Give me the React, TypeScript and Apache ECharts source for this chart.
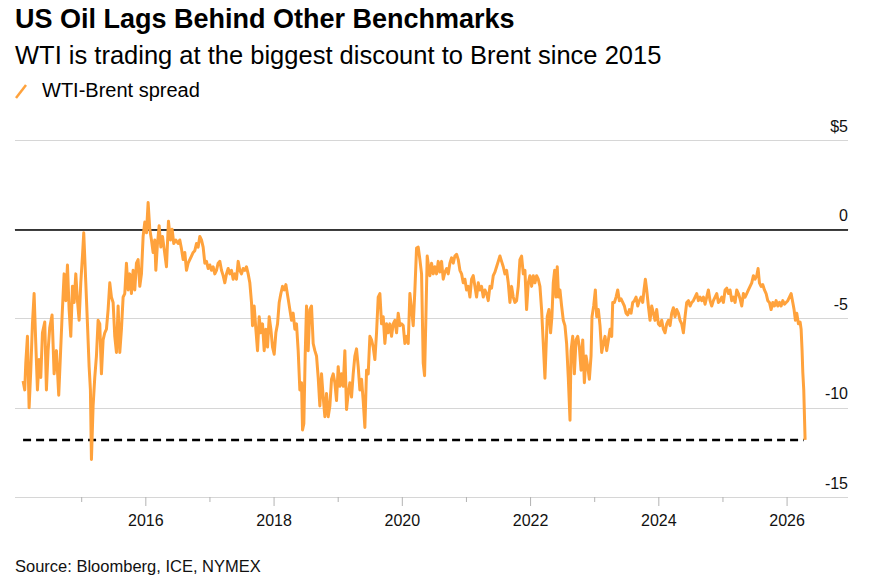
import React, { useEffect, useRef } from "react";
import * as echarts from "echarts";

// WTI-Brent spread, [decimal year, $ per barrel]
const spread2014to2015: [number, number][] = [
  [2014.086, -8.5], [2014.112, -9.0], [2014.128, -7.5], [2014.154, -6.0], [2014.18, -10.0], [2014.206, -7.9],
  [2014.232, -5.3], [2014.258, -3.6], [2014.284, -6.4], [2014.31, -9.0], [2014.336, -7.3], [2014.362, -8.3],
  [2014.388, -5.8], [2014.424, -5.2], [2014.45, -9.0], [2014.476, -6.8], [2014.502, -5.5], [2014.538, -4.8],
  [2014.57, -8.1], [2014.606, -6.8], [2014.642, -9.3], [2014.668, -7.1], [2014.694, -4.9], [2014.726, -2.5],
  [2014.752, -4.0], [2014.778, -2.0], [2014.804, -4.5], [2014.83, -6.0], [2014.856, -3.2], [2014.882, -4.1],
  [2014.908, -2.5], [2014.934, -4.0], [2014.96, -5.1], [2014.986, -3.0], [2015.012, -1.5], [2015.032, -0.2],
  [2015.064, -3.0], [2015.09, -5.3], [2015.116, -7.7], [2015.136, -9.0], [2015.152, -12.9], [2015.178, -9.9],
  [2015.204, -8.3], [2015.23, -7.1], [2015.256, -5.1], [2015.282, -5.3], [2015.308, -8.1], [2015.334, -6.2],
  [2015.36, -5.8], [2015.386, -5.6], [2015.412, -4.5], [2015.438, -3.0], [2015.464, -3.8], [2015.49, -4.1],
  [2015.516, -6.0], [2015.542, -6.9], [2015.568, -4.3], [2015.594, -6.9], [2015.62, -5.6], [2015.646, -3.8],
  [2015.672, -3.6], [2015.698, -1.9], [2015.724, -3.4], [2015.75, -2.5], [2015.776, -3.6], [2015.802, -2.3],
  [2015.828, -3.4], [2015.854, -1.9], [2015.88, -1.7], [2015.906, -3.2], [2015.932, -2.5], [2015.958, -0.4],
  [2015.984, 0.4], [2016.01, -0.2], [2016.036, 1.5], [2016.062, 0.0],
];

const spread2016to2018: [number, number][] = [
  [2016.088, -0.6], [2016.114, -1.3], [2016.14, -0.6], [2016.156, -2.3], [2016.182, -0.8], [2016.208, 0.2],
  [2016.234, -1.0], [2016.26, -0.4], [2016.286, -1.1], [2016.322, -2.1], [2016.353, 0.45], [2016.384, -0.6],
  [2016.41, 0.0], [2016.436, -0.8], [2016.468, -0.6], [2016.504, -0.8], [2016.53, -0.6], [2016.556, -1.1],
  [2016.582, -1.7], [2016.608, -1.3], [2016.634, -2.3], [2016.66, -1.9], [2016.686, -1.7], [2016.712, -1.5],
  [2016.738, -1.3], [2016.764, -1.2], [2016.79, -0.8], [2016.816, -1.0], [2016.842, -0.4], [2016.868, -0.6],
  [2016.894, -1.0], [2016.92, -1.9], [2016.946, -1.8], [2016.972, -2.2], [2016.998, -2.0], [2017.024, -2.3],
  [2017.05, -2.1], [2017.076, -2.5], [2017.102, -2.3], [2017.128, -1.9], [2017.154, -1.8], [2017.18, -2.3],
  [2017.206, -2.6], [2017.232, -3.0], [2017.258, -2.5], [2017.284, -2.2], [2017.31, -2.5], [2017.336, -2.3],
  [2017.362, -2.8], [2017.388, -2.5], [2017.414, -2.8], [2017.44, -1.8], [2017.466, -2.3], [2017.492, -2.5],
  [2017.518, -2.2], [2017.544, -2.3], [2017.57, -2.1], [2017.596, -2.5], [2017.622, -3.0], [2017.648, -4.1],
  [2017.664, -5.4], [2017.69, -4.3], [2017.716, -5.6], [2017.742, -6.8], [2017.768, -4.9], [2017.794, -5.8],
  [2017.82, -5.3], [2017.846, -6.8], [2017.872, -5.6], [2017.898, -6.6], [2017.924, -4.9], [2017.95, -5.6],
  [2017.976, -6.6], [2018.002, -7.0], [2018.028, -5.8], [2018.054, -5.3], [2018.08, -4.1], [2018.106, -3.6],
  [2018.132, -3.2], [2018.158, -3.4], [2018.184, -3.1],
];

const spread2018to2020: [number, number][] = [
  [2018.22, -3.9], [2018.272, -5.1], [2018.298, -4.7], [2018.324, -5.6], [2018.35, -5.3], [2018.376, -6.8],
  [2018.402, -9.0], [2018.428, -8.6], [2018.444, -11.25], [2018.464, -10.9], [2018.485, -7.1], [2018.506, -4.3],
  [2018.532, -6.8], [2018.558, -4.5], [2018.584, -4.3], [2018.61, -6.4], [2018.636, -6.8], [2018.662, -7.1],
  [2018.688, -8.3], [2018.714, -9.9], [2018.74, -8.1], [2018.766, -9.4], [2018.792, -10.5], [2018.818, -9.2],
  [2018.844, -10.5], [2018.87, -9.9], [2018.896, -8.4], [2018.922, -8.1], [2018.948, -8.6], [2018.974, -9.6],
  [2019.0, -7.7], [2019.026, -8.8], [2019.052, -8.1], [2019.078, -8.8], [2019.104, -6.8], [2019.13, -10.1],
  [2019.156, -9.2], [2019.182, -8.6], [2019.208, -9.4], [2019.234, -8.1], [2019.26, -7.1], [2019.286, -6.7],
  [2019.312, -7.7], [2019.338, -9.0], [2019.364, -8.4], [2019.39, -9.6], [2019.416, -11.1], [2019.442, -7.9],
  [2019.468, -8.1], [2019.494, -6.0], [2019.52, -6.2], [2019.546, -6.6], [2019.572, -7.3], [2019.598, -5.8],
  [2019.624, -3.8], [2019.65, -3.6], [2019.676, -5.3], [2019.702, -4.9], [2019.728, -6.4], [2019.754, -5.3],
  [2019.78, -5.8], [2019.806, -5.3], [2019.832, -6.0], [2019.858, -5.3], [2019.884, -5.1], [2019.91, -5.8],
  [2019.936, -4.7], [2019.962, -5.4], [2019.988, -5.3], [2020.014, -5.4], [2020.04, -6.4], [2020.066, -6.0],
  [2020.092, -6.4], [2020.118, -3.6], [2020.144, -4.5], [2020.17, -5.4], [2020.196, -3.4], [2020.222, -1.05],
  [2020.248, -1.0], [2020.274, -1.7], [2020.3, -2.5], [2020.326, -7.5], [2020.347, -8.2], [2020.368, -4.9],
  [2020.388, -1.5], [2020.409, -2.1], [2020.43, -2.6], [2020.456, -1.9], [2020.482, -2.5], [2020.508, -2.1],
  [2020.534, -2.5], [2020.56, -1.8],
];

const spread2020to2022: [number, number][] = [
  [2020.586, -2.4], [2020.612, -1.8], [2020.638, -2.8], [2020.664, -2.4], [2020.69, -2.2], [2020.716, -2.5],
  [2020.742, -1.9], [2020.768, -1.6], [2020.794, -1.9], [2020.82, -1.5], [2020.846, -1.4], [2020.872, -1.7],
  [2020.898, -2.3], [2020.924, -2.5], [2020.95, -3.0], [2020.976, -2.8], [2021.002, -3.4], [2021.028, -3.2],
  [2021.054, -3.8], [2021.08, -2.8], [2021.106, -2.6], [2021.132, -3.2], [2021.158, -3.8], [2021.184, -3.0],
  [2021.21, -3.4], [2021.236, -3.2], [2021.262, -3.8], [2021.288, -3.4], [2021.314, -3.6], [2021.34, -4.0],
  [2021.366, -3.2], [2021.392, -3.3], [2021.418, -2.6], [2021.444, -2.4], [2021.47, -2.1], [2021.496, -1.8],
  [2021.522, -1.5], [2021.548, -1.8], [2021.574, -2.1], [2021.6, -2.5], [2021.626, -2.3], [2021.652, -3.0],
  [2021.678, -4.1], [2021.704, -3.2], [2021.73, -3.8], [2021.756, -4.1], [2021.782, -4.0], [2021.808, -3.2],
  [2021.834, -1.7], [2021.86, -1.5], [2021.886, -2.5], [2021.912, -2.3], [2021.938, -4.5], [2021.964, -3.0],
  [2021.99, -2.6], [2022.016, -3.2], [2022.042, -2.6], [2022.068, -3.0], [2022.094, -2.6], [2022.12, -2.8],
  [2022.146, -3.2], [2022.172, -4.5], [2022.198, -6.4], [2022.224, -8.35], [2022.24, -6.8], [2022.26, -4.9],
  [2022.286, -4.5], [2022.312, -5.8], [2022.333, -4.9], [2022.354, -3.0], [2022.375, -2.3], [2022.396, -3.8],
  [2022.416, -2.1], [2022.437, -3.8], [2022.458, -3.4], [2022.484, -4.3], [2022.51, -5.1], [2022.536, -5.4],
  [2022.562, -6.4], [2022.588, -8.3],
];

const spread2022to2024: [number, number][] = [
  [2022.615, -10.7], [2022.631, -6.8], [2022.657, -6.0], [2022.683, -8.1], [2022.709, -6.2], [2022.735, -6.0],
  [2022.761, -6.6], [2022.787, -7.9], [2022.813, -6.2], [2022.839, -8.6], [2022.865, -7.1], [2022.891, -7.7],
  [2022.917, -8.4], [2022.943, -7.1], [2022.958, -4.9], [2022.984, -4.3], [2023.01, -3.4], [2023.031, -4.9],
  [2023.057, -4.5], [2023.083, -5.4], [2023.109, -6.9], [2023.135, -6.4], [2023.161, -6.0], [2023.187, -6.8],
  [2023.213, -6.2], [2023.239, -5.6], [2023.265, -6.0], [2023.281, -4.1], [2023.307, -4.1], [2023.333, -3.8],
  [2023.359, -3.4], [2023.385, -4.0], [2023.411, -3.9], [2023.437, -4.1], [2023.463, -4.3], [2023.489, -4.7],
  [2023.515, -4.8], [2023.541, -4.5], [2023.567, -4.7], [2023.593, -4.1], [2023.619, -4.0], [2023.645, -3.8],
  [2023.671, -4.3], [2023.697, -4.0], [2023.723, -3.8], [2023.749, -4.1], [2023.769, -3.4], [2023.79, -2.8],
  [2023.811, -3.4], [2023.837, -4.3], [2023.863, -5.1], [2023.889, -4.3], [2023.915, -4.7], [2023.941, -5.1],
  [2023.967, -4.5], [2023.993, -5.3], [2024.019, -5.4], [2024.045, -5.1], [2024.071, -5.6], [2024.097, -5.8],
  [2024.123, -5.3], [2024.149, -5.1], [2024.175, -5.4], [2024.201, -4.7], [2024.227, -4.4], [2024.253, -4.9],
  [2024.279, -4.5], [2024.305, -4.7], [2024.331, -5.1], [2024.357, -5.3], [2024.383, -5.8], [2024.409, -4.9],
  [2024.435, -4.1], [2024.461, -4.0], [2024.487, -4.3], [2024.513, -4.1], [2024.539, -4.0], [2024.565, -3.8],
  [2024.591, -3.6], [2024.617, -4.0], [2024.643, -3.8], [2024.669, -4.0], [2024.695, -3.8], [2024.721, -4.2],
  [2024.747, -3.8], [2024.773, -3.4], [2024.799, -4.0], [2024.825, -4.3], [2024.851, -4.0], [2024.877, -3.8],
  [2024.903, -3.6], [2024.929, -4.1],
];

const spread2025to2026: [number, number][] = [
  [2024.955, -4.0], [2024.981, -3.8], [2025.007, -4.1], [2025.033, -3.4], [2025.059, -3.3], [2025.085, -3.6],
  [2025.111, -3.4], [2025.137, -4.0], [2025.163, -3.8], [2025.189, -4.1], [2025.215, -3.4], [2025.241, -3.6],
  [2025.267, -3.9], [2025.293, -4.3], [2025.319, -3.6], [2025.345, -3.8], [2025.371, -3.6], [2025.397, -3.4],
  [2025.423, -3.2], [2025.449, -3.0], [2025.475, -2.6], [2025.501, -2.8], [2025.527, -2.6], [2025.548, -2.2],
  [2025.569, -3.0], [2025.595, -3.2], [2025.621, -3.1], [2025.647, -3.4], [2025.673, -3.6], [2025.699, -4.0],
  [2025.725, -4.1], [2025.751, -4.5], [2025.777, -4.1], [2025.803, -4.3], [2025.829, -4.0], [2025.855, -4.3],
  [2025.881, -4.1], [2025.907, -4.3], [2025.933, -4.0], [2025.959, -4.2], [2025.985, -4.1], [2026.011, -4.0],
  [2026.037, -3.8], [2026.063, -3.6], [2026.089, -4.1], [2026.109, -4.5], [2026.13, -5.1], [2026.151, -4.7],
  [2026.177, -5.3], [2026.203, -5.2], [2026.219, -5.6], [2026.234, -6.8], [2026.245, -8.0], [2026.26, -9.0],
  [2026.281, -11.8],
];

// Current spread level marked by the dashed reference line
const dashedLevel = -11.8;
const dashedSpan: [number, number] = [2014.086, 2026.26];

// Axis ticks
const labelYears = [2016, 2018, 2020, 2022, 2024, 2026];
const minorYears = [2015, 2017, 2019, 2021, 2023, 2025];
const yTicks = { min: -15, max: 5, interval: 5 };
const xRange = { min: 2013.96, max: 2026.95 };

const TITLE = "US Oil Lags Behind Other Benchmarks";
const SUBTITLE = "WTI is trading at the biggest discount to Brent since 2015";
const LEGEND = "WTI-Brent spread";
const SOURCE = "Source: Bloomberg, ICE, NYMEX";

const ORANGE = "#ffa23c";
const TICK_GREY = "#b3b3b3";
const FONT = "'Liberation Sans', Arial, Helvetica, sans-serif";

export default function App() {
  const ref = useRef<HTMLDivElement>(null);

  useEffect(() => {
    if (!ref.current) return;
    const chart = echarts.init(ref.current, undefined, { renderer: "svg" });
    const spread = [
      ...spread2014to2015,
      ...spread2016to2018,
      ...spread2018to2020,
      ...spread2020to2022,
      ...spread2022to2024,
      ...spread2025to2026,
    ];
    const tickData = [
      ...labelYears.map((y) => [y, 9]),
      ...minorYears.map((y) => [y, 5]),
    ];

    chart.setOption({
      animation: false,
      backgroundColor: "#ffffff",
      textStyle: { fontFamily: FONT },
      grid: { left: 15, right: 22, top: 140, bottom: 84 },
      xAxis: {
        type: "value",
        min: xRange.min,
        max: xRange.max,
        axisLine: { show: true, lineStyle: { color: "#d4d4d4", width: 1 } },
        axisTick: { show: false },
        axisLabel: {
          show: true,
          customValues: labelYears,
          margin: 15,
          fontSize: 16,
          lineHeight: 16,
          color: "#111",
          fontFamily: FONT,
          formatter: (v: number) => String(Math.round(v)),
        },
        splitLine: { show: false },
      },
      yAxis: {
        type: "value",
        position: "right",
        min: yTicks.min,
        max: yTicks.max,
        interval: yTicks.interval,
        axisLine: { show: false },
        axisTick: { show: false },
        splitLine: { show: true, lineStyle: { color: "#d6d6d6", width: 1 } },
        axisLabel: {
          inside: true,
          margin: 0,
          align: "right",
          verticalAlign: "bottom",
          lineHeight: 16,
          padding: [0, 0, 6, 0],
          fontSize: 16,
          color: "#111",
          fontFamily: FONT,
          formatter: (v: number) => (v === yTicks.max ? "$" + v : String(v)),
        },
      },
      series: [
        {
          type: "custom",
          name: "ticks",
          silent: true,
          clip: false,
          z: 1,
          data: tickData,
          renderItem: (_params: any, api: any) => {
            const p = api.coord([api.value(0), yTicks.min]);
            const len = api.value(1);
            return {
              type: "line",
              shape: { x1: p[0], y1: p[1], x2: p[0], y2: p[1] + len },
              style: { stroke: TICK_GREY, lineWidth: 1 },
            };
          },
        },
        {
          type: "line",
          name: "zero",
          data: [],
          silent: true,
          z: 1,
          markLine: {
            silent: true,
            symbol: "none",
            label: { show: false },
            lineStyle: { color: "#000", width: 1.5, type: "solid" },
            data: [{ yAxis: 0 }],
          },
        },
        {
          type: "line",
          name: "level",
          data: [
            [dashedSpan[0], dashedLevel],
            [dashedSpan[1], dashedLevel],
          ],
          symbol: "none",
          silent: true,
          z: 2,
          lineStyle: { color: "#000", width: 2.5, type: [8, 5] },
        },
        {
          type: "line",
          name: LEGEND,
          data: spread,
          symbol: "none",
          showSymbol: false,
          z: 5,
          lineStyle: { color: ORANGE, width: 3, join: "round" },
        },
      ],
      graphic: [
        {
          type: "text",
          left: 15,
          top: 5,
          style: { text: TITLE, fontSize: 27, fontWeight: "bold", fill: "#000", fontFamily: FONT },
        },
        {
          type: "text",
          left: 15,
          top: 42,
          style: { text: SUBTITLE, fontSize: 25.5, fill: "#000", fontFamily: FONT },
        },
        {
          type: "line",
          shape: { x1: 16, y1: 98, x2: 26, y2: 85 },
          style: { stroke: ORANGE, lineWidth: 2.5 },
        },
        {
          type: "text",
          left: 42,
          top: 80,
          style: { text: LEGEND, fontSize: 20, fill: "#000", fontFamily: FONT },
        },
        {
          type: "text",
          left: 15,
          top: 557,
          style: { text: SOURCE, fontSize: 16.5, fill: "#111", fontFamily: FONT },
        },
      ],
    });

    return () => chart.dispose();
  }, []);

  return (
    <div
      ref={ref}
      style={{ position: "absolute", left: 0, top: 0, width: 870, height: 581 }}
    />
  );
}
